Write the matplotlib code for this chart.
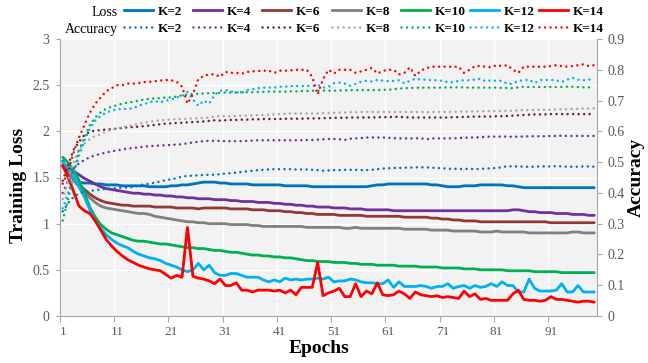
import matplotlib
matplotlib.use('Agg')
import matplotlib.pyplot as plt
from matplotlib.lines import Line2D
import numpy as np

plt.rcParams['font.family'] = ['Liberation Serif', 'DejaVu Serif']

epochs = list(range(1, 100))
k_labels = ['K=2', 'K=4', 'K=6', 'K=8', 'K=10', 'K=12', 'K=14']
x_tick_epochs = [1, 11, 21, 31, 41, 51, 61, 71, 81, 91]

loss_k2 = [1.68,1.55,1.48,1.45,1.44,1.44,1.43,1.43,1.42,1.42,
           1.42,1.41,1.41,1.41,1.41,1.41,1.40,1.40,1.40,1.40,
           1.41,1.41,1.42,1.42,1.43,1.44,1.45,1.45,1.45,1.44,
           1.44,1.43,1.43,1.43,1.43,1.42,1.42,1.42,1.42,1.42,
           1.42,1.41,1.41,1.41,1.41,1.41,1.40,1.40,1.40,1.40,
           1.40,1.40,1.40,1.40,1.40,1.40,1.40,1.41,1.42,1.42,
           1.43,1.43,1.43,1.43,1.43,1.43,1.43,1.43,1.42,1.42,
           1.41,1.40,1.40,1.40,1.41,1.41,1.41,1.42,1.42,1.42,
           1.42,1.42,1.41,1.41,1.40,1.39,1.39,1.39,1.39,1.39,
           1.39,1.39,1.39,1.39,1.39,1.39,1.39,1.39,1.39]
loss_k4 = [1.63,1.60,1.57,1.53,1.49,1.46,1.43,1.40,1.38,1.37,
           1.36,1.35,1.34,1.33,1.33,1.32,1.32,1.31,1.31,1.30,
           1.30,1.29,1.29,1.28,1.28,1.27,1.27,1.27,1.26,1.26,
           1.26,1.25,1.25,1.24,1.24,1.24,1.23,1.23,1.23,1.22,
           1.22,1.21,1.21,1.20,1.20,1.19,1.19,1.18,1.18,1.18,
           1.17,1.17,1.17,1.16,1.16,1.16,1.15,1.15,1.15,1.15,
           1.15,1.14,1.14,1.14,1.14,1.14,1.14,1.14,1.14,1.14,
           1.14,1.14,1.14,1.14,1.14,1.14,1.14,1.14,1.14,1.14,
           1.14,1.14,1.14,1.15,1.15,1.14,1.13,1.13,1.12,1.12,
           1.12,1.11,1.11,1.11,1.10,1.10,1.10,1.09,1.09]
loss_k6 = [1.62,1.55,1.48,1.42,1.37,1.32,1.28,1.25,1.23,1.22,
           1.21,1.20,1.20,1.19,1.19,1.19,1.19,1.18,1.18,1.18,
           1.18,1.17,1.17,1.17,1.17,1.16,1.17,1.17,1.17,1.17,
           1.17,1.16,1.16,1.16,1.16,1.15,1.15,1.15,1.14,1.14,
           1.14,1.13,1.13,1.12,1.12,1.11,1.11,1.10,1.10,1.10,
           1.10,1.09,1.09,1.09,1.09,1.09,1.08,1.08,1.08,1.08,
           1.08,1.08,1.08,1.07,1.07,1.07,1.07,1.07,1.06,1.06,
           1.05,1.05,1.04,1.04,1.03,1.03,1.03,1.02,1.02,1.02,
           1.02,1.02,1.02,1.02,1.02,1.02,1.02,1.02,1.02,1.02,
           1.01,1.01,1.01,1.01,1.01,1.01,1.01,1.01,1.01]
loss_k8 = [1.62,1.55,1.47,1.40,1.34,1.28,1.23,1.19,1.17,1.16,
           1.15,1.14,1.13,1.12,1.11,1.11,1.10,1.08,1.07,1.06,
           1.05,1.04,1.03,1.02,1.02,1.01,1.01,1.00,1.00,1.00,
           1.00,0.99,0.99,0.99,0.99,0.98,0.98,0.97,0.97,0.97,
           0.97,0.97,0.97,0.97,0.97,0.96,0.96,0.96,0.96,0.96,
           0.96,0.96,0.95,0.95,0.96,0.95,0.95,0.95,0.95,0.95,
           0.95,0.95,0.95,0.94,0.94,0.94,0.94,0.94,0.93,0.93,
           0.93,0.93,0.92,0.92,0.92,0.92,0.92,0.91,0.91,0.91,
           0.92,0.91,0.91,0.91,0.91,0.91,0.90,0.90,0.90,0.90,
           0.90,0.90,0.90,0.90,0.91,0.91,0.90,0.90,0.90]
loss_k10 = [1.72,1.66,1.58,1.47,1.33,1.18,1.07,0.99,0.94,0.90,
            0.88,0.86,0.84,0.82,0.81,0.81,0.80,0.79,0.78,0.78,
            0.77,0.76,0.75,0.74,0.74,0.73,0.73,0.72,0.71,0.71,
            0.70,0.69,0.69,0.68,0.67,0.66,0.66,0.65,0.65,0.64,
            0.64,0.63,0.63,0.62,0.61,0.60,0.60,0.59,0.59,0.59,
            0.58,0.58,0.58,0.57,0.57,0.56,0.56,0.56,0.55,0.55,
            0.55,0.55,0.54,0.54,0.54,0.54,0.53,0.53,0.53,0.53,
            0.52,0.52,0.52,0.52,0.51,0.51,0.51,0.50,0.50,0.50,
            0.50,0.50,0.49,0.49,0.49,0.49,0.49,0.48,0.48,0.48,
            0.48,0.48,0.47,0.47,0.47,0.47,0.47,0.47,0.47]
loss_k12 = [1.67,1.60,1.53,1.40,1.29,1.15,1.03,0.95,0.88,0.83,
            0.79,0.76,0.74,0.70,0.67,0.65,0.63,0.62,0.60,0.57,
            0.55,0.53,0.50,0.48,0.50,0.57,0.50,0.55,0.47,0.44,
            0.44,0.46,0.46,0.44,0.42,0.42,0.42,0.39,0.37,0.39,
            0.37,0.41,0.39,0.40,0.39,0.40,0.40,0.41,0.40,0.42,
            0.37,0.38,0.38,0.40,0.39,0.37,0.36,0.36,0.35,0.35,
            0.39,0.31,0.37,0.32,0.32,0.32,0.33,0.32,0.30,0.32,
            0.32,0.35,0.30,0.32,0.33,0.30,0.33,0.31,0.32,0.35,
            0.32,0.37,0.33,0.33,0.26,0.26,0.40,0.30,0.27,0.27,
            0.27,0.28,0.35,0.26,0.26,0.33,0.26,0.26,0.26]
loss_k14 = [1.63,1.50,1.35,1.19,1.14,1.11,1.03,0.93,0.83,0.76,
            0.70,0.65,0.61,0.58,0.55,0.53,0.51,0.50,0.49,0.45,
            0.41,0.44,0.42,0.96,0.43,0.41,0.40,0.38,0.35,0.40,
            0.33,0.33,0.36,0.28,0.28,0.26,0.28,0.28,0.28,0.27,
            0.28,0.25,0.28,0.23,0.31,0.31,0.31,0.58,0.22,0.25,
            0.27,0.30,0.21,0.21,0.35,0.21,0.27,0.24,0.36,0.23,
            0.22,0.23,0.27,0.24,0.19,0.26,0.23,0.22,0.21,0.22,
            0.20,0.21,0.20,0.19,0.27,0.21,0.24,0.18,0.19,0.17,
            0.17,0.17,0.17,0.24,0.28,0.18,0.17,0.17,0.16,0.17,
            0.21,0.18,0.18,0.17,0.16,0.15,0.16,0.16,0.15]

acc_k2 = [0.34,0.367,0.387,0.398,0.403,0.406,0.409,0.411,0.413,0.414,
          0.416,0.417,0.418,0.419,0.424,0.428,0.430,0.433,0.437,0.442,
          0.444,0.448,0.453,0.455,0.456,0.457,0.458,0.459,0.459,0.461,
          0.463,0.464,0.466,0.468,0.470,0.472,0.474,0.475,0.476,0.477,
          0.477,0.477,0.477,0.476,0.476,0.476,0.475,0.474,0.472,0.473,
          0.474,0.474,0.475,0.475,0.475,0.474,0.474,0.475,0.477,0.479,
          0.480,0.481,0.481,0.482,0.482,0.483,0.483,0.483,0.482,0.481,
          0.480,0.479,0.478,0.478,0.478,0.478,0.477,0.478,0.479,0.480,
          0.481,0.483,0.487,0.486,0.486,0.485,0.485,0.485,0.486,0.486,
          0.486,0.487,0.486,0.485,0.485,0.485,0.486,0.486,0.485]
acc_k4 = [0.40,0.44,0.48,0.496,0.507,0.516,0.522,0.527,0.531,0.535,
          0.538,0.541,0.544,0.546,0.548,0.550,0.552,0.553,0.554,0.555,
          0.556,0.557,0.558,0.561,0.564,0.566,0.568,0.569,0.569,0.569,
          0.568,0.568,0.568,0.568,0.569,0.570,0.571,0.571,0.571,0.571,
          0.571,0.571,0.571,0.571,0.571,0.572,0.572,0.573,0.574,0.575,
          0.575,0.574,0.572,0.576,0.577,0.578,0.580,0.580,0.580,0.580,
          0.579,0.578,0.577,0.577,0.577,0.577,0.578,0.574,0.577,0.577,
          0.577,0.577,0.577,0.578,0.579,0.580,0.580,0.581,0.582,0.583,
          0.583,0.583,0.583,0.582,0.583,0.583,0.584,0.584,0.584,0.584,
          0.585,0.585,0.586,0.585,0.585,0.585,0.585,0.585,0.585]
acc_k6 = [0.44,0.49,0.54,0.566,0.588,0.599,0.602,0.604,0.606,0.607,
          0.609,0.611,0.613,0.614,0.615,0.617,0.619,0.621,0.623,0.625,
          0.626,0.627,0.628,0.629,0.630,0.631,0.632,0.634,0.636,0.635,
          0.636,0.637,0.637,0.638,0.638,0.639,0.639,0.640,0.640,0.640,
          0.640,0.641,0.641,0.641,0.641,0.642,0.642,0.642,0.643,0.643,
          0.644,0.644,0.644,0.645,0.645,0.645,0.645,0.645,0.646,0.646,
          0.646,0.647,0.647,0.646,0.645,0.645,0.645,0.645,0.645,0.645,
          0.645,0.645,0.646,0.646,0.647,0.647,0.648,0.648,0.648,0.648,
          0.649,0.649,0.650,0.651,0.652,0.653,0.654,0.655,0.655,0.655,
          0.656,0.656,0.656,0.656,0.656,0.656,0.656,0.656,0.656]
acc_k8 = [0.38,0.44,0.50,0.54,0.56,0.575,0.585,0.590,0.600,0.605,
          0.610,0.613,0.617,0.620,0.624,0.628,0.631,0.634,0.636,0.637,
          0.639,0.640,0.640,0.641,0.642,0.642,0.644,0.645,0.648,0.650,
          0.649,0.649,0.650,0.651,0.651,0.652,0.653,0.653,0.654,0.655,
          0.656,0.657,0.658,0.658,0.658,0.658,0.658,0.658,0.659,0.660,
          0.660,0.661,0.661,0.662,0.662,0.663,0.663,0.663,0.663,0.663,
          0.663,0.663,0.663,0.663,0.663,0.663,0.663,0.662,0.663,0.663,
          0.663,0.663,0.663,0.664,0.664,0.664,0.665,0.665,0.665,0.666,
          0.666,0.666,0.667,0.667,0.668,0.669,0.669,0.670,0.670,0.670,
          0.670,0.671,0.672,0.672,0.673,0.673,0.674,0.674,0.675]
acc_k10 = [0.31,0.38,0.46,0.54,0.58,0.62,0.645,0.662,0.673,0.680,
           0.685,0.690,0.693,0.696,0.700,0.703,0.706,0.707,0.708,0.710,
           0.710,0.713,0.717,0.720,0.721,0.722,0.723,0.724,0.725,0.725,
           0.726,0.726,0.726,0.727,0.727,0.727,0.728,0.728,0.729,0.729,
           0.729,0.729,0.730,0.730,0.731,0.731,0.732,0.732,0.732,0.732,
           0.732,0.733,0.733,0.734,0.734,0.734,0.734,0.734,0.734,0.735,
           0.735,0.737,0.739,0.740,0.741,0.741,0.742,0.742,0.742,0.742,
           0.742,0.743,0.743,0.743,0.743,0.742,0.742,0.742,0.742,0.742,
           0.742,0.741,0.741,0.740,0.743,0.745,0.744,0.744,0.744,0.744,
           0.744,0.744,0.744,0.745,0.745,0.744,0.743,0.743,0.743]
acc_k12 = [0.35,0.40,0.46,0.52,0.57,0.61,0.635,0.650,0.660,0.668,
           0.672,0.672,0.674,0.674,0.684,0.688,0.695,0.698,0.694,0.700,
           0.703,0.710,0.714,0.728,0.703,0.683,0.700,0.690,0.718,0.732,
           0.734,0.730,0.727,0.725,0.734,0.737,0.740,0.742,0.742,0.742,
           0.745,0.745,0.747,0.747,0.747,0.748,0.746,0.751,0.742,0.745,
           0.756,0.758,0.755,0.748,0.754,0.761,0.764,0.762,0.767,0.765,
           0.763,0.764,0.766,0.756,0.764,0.771,0.768,0.768,0.766,0.766,
           0.764,0.760,0.760,0.764,0.766,0.766,0.768,0.771,0.762,0.766,
           0.764,0.764,0.754,0.755,0.764,0.766,0.768,0.757,0.767,0.767,
           0.767,0.766,0.760,0.768,0.774,0.768,0.766,0.768,0.771]
acc_k14 = [0.43,0.47,0.53,0.58,0.62,0.66,0.69,0.71,0.73,0.74,
           0.75,0.75,0.755,0.755,0.757,0.760,0.761,0.763,0.765,0.767,
           0.766,0.761,0.745,0.690,0.720,0.770,0.780,0.785,0.785,0.777,
           0.793,0.790,0.790,0.787,0.793,0.795,0.796,0.797,0.797,0.790,
           0.797,0.797,0.798,0.800,0.800,0.800,0.777,0.720,0.770,0.800,
           0.788,0.800,0.800,0.800,0.790,0.795,0.800,0.806,0.788,0.796,
           0.800,0.800,0.785,0.790,0.808,0.780,0.797,0.805,0.810,0.810,
           0.810,0.810,0.810,0.810,0.790,0.800,0.812,0.812,0.810,0.808,
           0.815,0.812,0.815,0.800,0.790,0.810,0.810,0.810,0.810,0.810,
           0.812,0.815,0.812,0.810,0.812,0.815,0.818,0.812,0.815]

loss_series = [loss_k2, loss_k4, loss_k6, loss_k8, loss_k10, loss_k12, loss_k14]
acc_series = [acc_k2, acc_k4, acc_k6, acc_k8, acc_k10, acc_k12, acc_k14]
loss_colors = ['#0070C0', '#7030A0', '#953735', '#808080', '#00B050', '#00B0F0', '#FF0000']
acc_colors = ['#0070C0', '#7030A0', '#632523', '#A6A6A6', '#00B050', '#00B0F0', '#FF0000']
dot_style = (0, (0.01, 2.2))

W, H = 648, 363
fig = plt.figure(figsize=(W / 100, H / 100), dpi=100)
ax = fig.add_axes([60 / W, 47 / H, 537 / W, 277 / H])
ax.set_facecolor('#F2F2F2')
ax2 = ax.twinx()

for vals, c in zip(loss_series, loss_colors):
    ax.plot(epochs, vals, color=c, lw=2.0, solid_joinstyle='round', solid_capstyle='round')
for vals, c in zip(acc_series, acc_colors):
    ax2.plot(epochs, vals, color=c, lw=1.8, linestyle=dot_style, dash_capstyle='round')

ax.set_xlim(0.5, 99.5)
ax.set_ylim(0, 3)
ax2.set_ylim(0, 0.9)

grey_axis = '#A6A6A6'
label_col = '#595959'

ax.set_xticks([e - 0.5 for e in x_tick_epochs])
ax.set_xticklabels([])
ax.set_xticks(x_tick_epochs, minor=True)
ax.set_xticklabels([str(e) for e in x_tick_epochs], minor=True)
ax.tick_params(axis='x', which='major', length=4, color=grey_axis, direction='out')
ax.tick_params(axis='x', which='minor', length=0, pad=7, labelsize=9.5, labelcolor=label_col)

yt = [0, 0.5, 1, 1.5, 2, 2.5, 3]
ax.set_yticks(yt)
ax.set_yticklabels(['0', '0.5', '1', '1.5', '2', '2.5', '3'])
ax.tick_params(axis='y', length=3, color=grey_axis, pad=4.5, labelsize=10, labelcolor=label_col)

yt2 = [0, 0.1, 0.2, 0.3, 0.4, 0.5, 0.6, 0.7, 0.8, 0.9]
ax2.set_yticks(yt2)
ax2.set_yticklabels(['0', '0.1', '0.2', '0.3', '0.4', '0.5', '0.6', '0.7', '0.8', '0.9'])
ax2.tick_params(axis='y', length=3.5, color=grey_axis, pad=4, labelsize=10, labelcolor=label_col)

ax.grid(True, which='major', color='white', lw=1.0)
ax.set_axisbelow(True)

for s in ['top', 'right']:
    ax.spines[s].set_visible(False)
for s in ['top', 'left', 'bottom']:
    ax2.spines[s].set_visible(False)
ax.spines['left'].set_color(grey_axis)
ax.spines['bottom'].set_color(grey_axis)
ax2.spines['right'].set_color(grey_axis)

ax.set_ylabel('Training Loss', fontsize=14, fontweight='bold')
ax.yaxis.set_label_coords(-0.062, 0.47)
ax2.set_ylabel('Accuracy', fontsize=14, fontweight='bold')
ax2.yaxis.set_label_coords(1.058, 0.5)
ax.set_xlabel('Epochs', fontsize=14, fontweight='bold')
ax.xaxis.set_label_coords(0.482, -0.085)

# legend rows
rows = [('Loss', 12, loss_colors, '-', 2.0), ('Accuracy', 29, acc_colors, dot_style, 1.8)]
for title, ypx, cols, ls, lw in rows:
    fig.text(118 / W, 1 - ypx / H, title, ha='right', va='center', fontsize=10)
    for i, (lab, c) in enumerate(zip(k_labels, cols)):
        h = Line2D([], [], color=c, lw=lw, linestyle=ls, dash_capstyle='round')
        fig.legend([h], [lab], loc='center left',
                   bbox_to_anchor=((124 + 69.2 * i) / W, 1 - ypx / H),
                   frameon=False, borderpad=0, borderaxespad=0,
                   handlelength=2.2, handletextpad=0.35,
                   prop={'weight': 'bold', 'size': 9.5})

fig.savefig('out.png', dpi=100)
